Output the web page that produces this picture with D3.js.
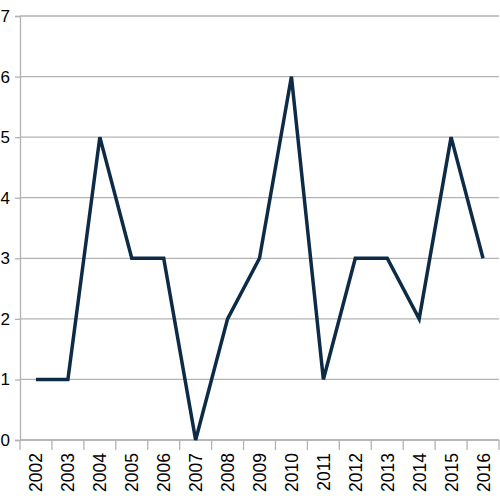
<!DOCTYPE html>
<html>
<head>
<meta charset="utf-8">
<script src="https://cdn.jsdelivr.net/npm/d3@7"></script>
<style>
  body { margin: 0; background: #fff; }
  .axis text { font-family: "Liberation Sans", Arial, sans-serif; fill: #000; }
</style>
</head>
<body>
<script>
var years = ["2002", "2003", "2004", "2005", "2006", "2007", "2008", "2009",
             "2010", "2011", "2012", "2013", "2014", "2015", "2016"];
var values = [1, 1, 5, 3, 3, 0, 2, 3, 6, 1, 3, 3, 2, 5, 3];
var yTicks = [0, 1, 2, 3, 4, 5, 6, 7];

var margin = {top: 16, right: 1, bottom: 60, left: 20},
    width = 500 - margin.left - margin.right,
    height = 500 - margin.top - margin.bottom;

var svg = d3.select("body").append("svg")
    .attr("width", 500)
    .attr("height", 500)
    .append("g")
    .attr("transform", "translate(" + margin.left + "," + margin.top + ")");

var x = d3.scaleBand()
    .domain(years)
    .range([0, width]);

var y = d3.scaleLinear()
    .domain([0, 7])
    .range([height, 0]);

// gridlines
svg.append("g")
    .selectAll("line")
    .data(yTicks)
    .enter()
    .append("line")
    .attr("x1", 0)
    .attr("x2", width)
    .attr("y1", function (d) { return y(d); })
    .attr("y2", function (d) { return y(d); })
    .attr("stroke", "#b3b3b3")
    .attr("stroke-width", 1.3);

// y axis
var yAxis = svg.append("g")
    .attr("class", "axis")
    .call(d3.axisLeft(y).tickValues(yTicks).tickSize(5).tickPadding(5).tickFormat(d3.format("d")));
yAxis.selectAll("text").style("font-size", "17px");
yAxis.selectAll("line, path").attr("stroke", "#b3b3b3").attr("stroke-width", 1.3);

// x axis: ticks at band boundaries
var xAxis = svg.append("g")
    .attr("class", "axis")
    .attr("transform", "translate(0," + height + ")");

xAxis.append("line")
    .attr("x1", 0).attr("x2", width)
    .attr("stroke", "#b3b3b3").attr("stroke-width", 1.3);

xAxis.selectAll(".tk")
    .data(years.concat(["end"]))
    .enter()
    .append("line")
    .attr("class", "tk")
    .attr("x1", function (d, i) { return i < years.length ? x(d) : width; })
    .attr("x2", function (d, i) { return i < years.length ? x(d) : width; })
    .attr("y1", 0)
    .attr("y2", 10)
    .attr("stroke", "#b3b3b3")
    .attr("stroke-width", 1.3);

xAxis.selectAll("text")
    .data(years)
    .enter()
    .append("text")
    .text(function (d) { return d; })
    .attr("transform", function (d) {
        return "translate(" + (x(d) + x.bandwidth() / 2 + 6.5) + ",13) rotate(-90)";
    })
    .attr("text-anchor", "end")
    .style("font-size", "17.5px");

// line
var line = d3.line()
    .x(function (d, i) { return x(years[i]) + x.bandwidth() / 2; })
    .y(function (d) { return y(d); });

svg.append("path")
    .datum(values)
    .attr("fill", "none")
    .attr("stroke", "#0d2b46")
    .attr("stroke-width", 3.5)
    .attr("stroke-linejoin", "miter")
    .attr("d", line);
</script>
</body>
</html>
